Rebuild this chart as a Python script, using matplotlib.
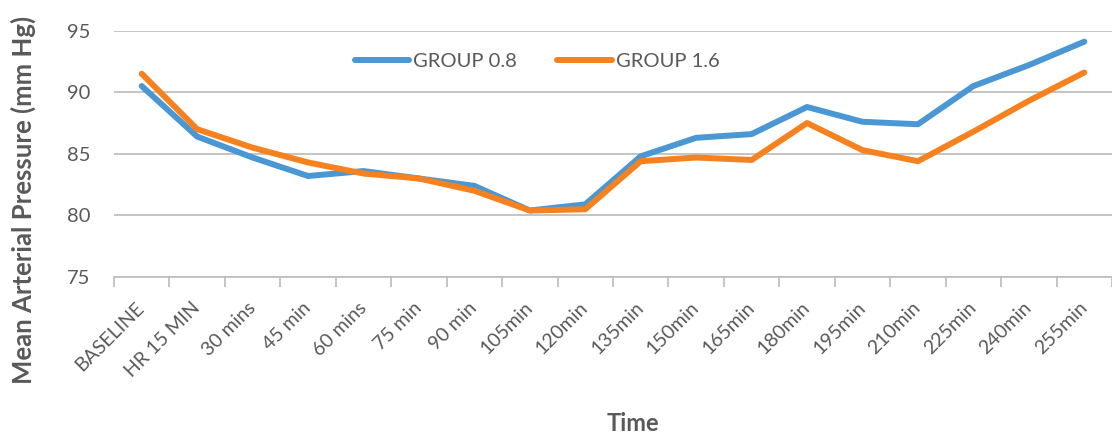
import matplotlib
matplotlib.use("Agg")
import numpy as np
import matplotlib.pyplot as plt
from matplotlib.ticker import FixedLocator

plt.rcParams['font.family'] = ['Lato', 'DejaVu Sans']

# time points
times = ["BASELINE", "HR 15 MIN", "30 mins", "45 min", "60 mins", "75 min",
         "90 min", "105min", "120min", "135min", "150min", "165min",
         "180min", "195min", "210min", "225min", "240min", "255min"]

# mean arterial pressure per group
group_08 = [90.5, 86.4, 84.7, 83.2, 83.6, 83.0, 82.4, 80.4, 80.9,
            84.8, 86.3, 86.6, 88.8, 87.6, 87.4, 90.5, 92.2, 94.1]
group_16 = [91.5, 87.0, 85.5, 84.3, 83.4, 83.0, 82.0, 80.4, 80.5,
            84.4, 84.7, 84.5, 87.5, 85.3, 84.4, 86.8, 89.3, 91.6]

blue = "#4A97D4"
orange = "#F5821F"
txt = "#595959"
grid = "#BFBFBF"

fig = plt.figure(figsize=(11.12, 4.37), dpi=100)
ax = fig.add_axes([0.1025, 0.366, 0.8975, 0.564])

x = np.arange(len(times))
ax.plot(x, group_08, color=blue, lw=4.3, solid_capstyle='round', label="GROUP 0.8")
ax.plot(x, group_16, color=orange, lw=4.3, solid_capstyle='round', label="GROUP 1.6")

ax.set_ylim(75, 95)
ax.set_xlim(-0.5, len(times) - 0.5)
ax.set_yticks([75, 80, 85, 90, 95])
ax.yaxis.grid(True, color=grid, lw=1.3)
ax.set_axisbelow(True)
for s in ['left', 'right', 'top']:
    ax.spines[s].set_visible(False)
ax.spines['bottom'].set_color(grid)
ax.spines['bottom'].set_linewidth(1.3)

ax.tick_params(axis='y', length=0, labelsize=14.5, labelcolor=txt, pad=17)
ax.set_xticks(x)
ax.set_xticklabels(times, rotation=45, ha='right', va='center',
                   rotation_mode='anchor', fontsize=14, color=txt)
ax.tick_params(axis='x', which='major', length=0, pad=20)
ax.xaxis.set_minor_locator(FixedLocator(np.arange(-0.5, len(times), 1.0)))
ax.tick_params(axis='x', which='minor', length=7, color=grid, width=1.3)

fig.text(0.021, 0.542, "Mean Arterial Pressure (mm Hg)", fontsize=18.5,
         fontweight='bold', color=txt, rotation=90, ha='center', va='center')
fig.text(0.569, 0.005, "Time", fontsize=17, fontweight='bold', color=txt,
         ha='center', va='bottom')

ax.legend(loc='center', bbox_to_anchor=(0.424, 0.873), ncol=2, frameon=False,
          fontsize=14.5, labelcolor=txt, handlelength=2.7, handletextpad=0.2,
          columnspacing=2.0)

fig.savefig("out.png", dpi=100)
